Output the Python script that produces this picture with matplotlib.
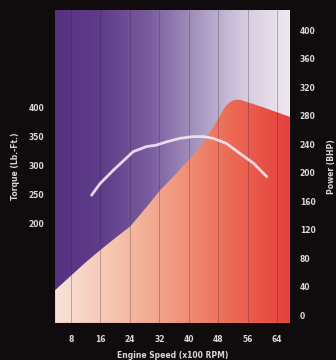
import numpy as np
import matplotlib
matplotlib.use("Agg")
import matplotlib.pyplot as plt
from matplotlib.colors import LinearSegmentedColormap

# engine speed (x100 rpm) and power (BHP) - filled area
power_rpm = [3.7, 8.6, 12.0, 15.9, 20.0, 24.0, 26.5, 28.6, 32.2, 36.7, 40.0, 43.1, 46.7,
             48.5, 50.0, 51.2, 52.5, 54.0, 60.0, 67.5]
power_bhp = [35, 58, 74, 91, 108, 124, 139, 152, 175, 199, 218, 236, 264,
             280, 293, 299, 302, 302, 292, 278]

# torque (lb-ft) - white line
torque_rpm = [13.6, 15.9, 19.5, 24.9, 28.6, 31.0, 34.0, 37.6, 41.2, 44.0, 46.7, 50.3, 53.9, 57.6, 61.2]
torque_lbft = [248, 268, 291, 323, 332, 334, 340, 346, 349, 349, 346, 337, 320, 303, 280]

speed_ticks = [8, 16, 24, 32, 40, 48, 56, 64]
power_ticks = [0, 40, 80, 120, 160, 200, 240, 280, 320, 360, 400]
torque_ticks = [200, 250, 300, 350, 400]

xlim = (3.7, 67.5)
power_lim = (-11, 428)
torque_lim = (28, 567)

bg = '#100c0d'
txt = '#d9d6d6'

fig = plt.figure(figsize=(3.36, 3.6), dpi=100, facecolor=bg)
ax = fig.add_axes([0.164, 0.103, 0.699, 0.869])
ax.set_xlim(*xlim)
ax.set_ylim(*power_lim)

# purple background gradient
purple = LinearSegmentedColormap.from_list(
    'purple', ['#55327f', '#5f3d8a', '#7a5c9e', '#a594be', '#d4cadf', '#eee8f0'])
grad = np.linspace(0, 1, 256).reshape(1, -1)
ax.imshow(grad, cmap=purple, aspect='auto', extent=(*xlim, *power_lim),
          origin='lower', zorder=0)

# red power area with its own gradient, clipped to the fill
reds = LinearSegmentedColormap.from_list(
    'reds', ['#f8e2d8', '#f6c4ae', '#f19a80', '#ec6a55', '#e4403b'])
poly = ax.fill_between(power_rpm, power_bhp, power_lim[0], color='none', zorder=1)
im = ax.imshow(grad, cmap=reds, aspect='auto', extent=(*xlim, *power_lim),
               origin='lower', zorder=1)
im.set_clip_path(poly.get_paths()[0], transform=ax.transData)

for x in speed_ticks:
    ax.axvline(x, color='#3a2030', lw=0.6, alpha=0.35, zorder=2)

for s in ax.spines.values():
    s.set_visible(False)

# torque on the left axis
ax2 = ax.twinx()
ax2.set_ylim(*torque_lim)
ax2.plot(torque_rpm, torque_lbft, color='#f2e8f4', lw=2, alpha=0.9,
         solid_capstyle='round', zorder=3)
for s in ax2.spines.values():
    s.set_visible(False)

# power axis on the right (set after twinx, which moves it)
ax.set_xticks(speed_ticks)
ax.set_yticks(power_ticks)
ax.yaxis.tick_right()
ax.yaxis.set_label_position('right')
ax.tick_params(colors=txt, length=0, labelsize=5.5, pad=9)
ax.tick_params(axis='y', pad=7)
for lab in ax.get_xticklabels() + ax.get_yticklabels():
    lab.set_fontweight('bold')
ax.set_xlabel('Engine Speed (x100 RPM)', color=txt, fontsize=5.5, fontweight='bold', labelpad=5)
ax.set_ylabel('Power (BHP)', color=txt, fontsize=5.5, fontweight='bold', labelpad=8)

ax2.yaxis.tick_left()
ax2.yaxis.set_label_position('left')
ax2.set_yticks(torque_ticks)
ax2.tick_params(colors=txt, length=0, labelsize=5.5, pad=8)
for lab in ax2.get_yticklabels():
    lab.set_fontweight('bold')
ax2.set_ylabel('Torque (Lb.-Ft.)', color=txt, fontsize=5.5, fontweight='bold', labelpad=6)

fig.savefig('out.png', dpi=100, facecolor=bg)
